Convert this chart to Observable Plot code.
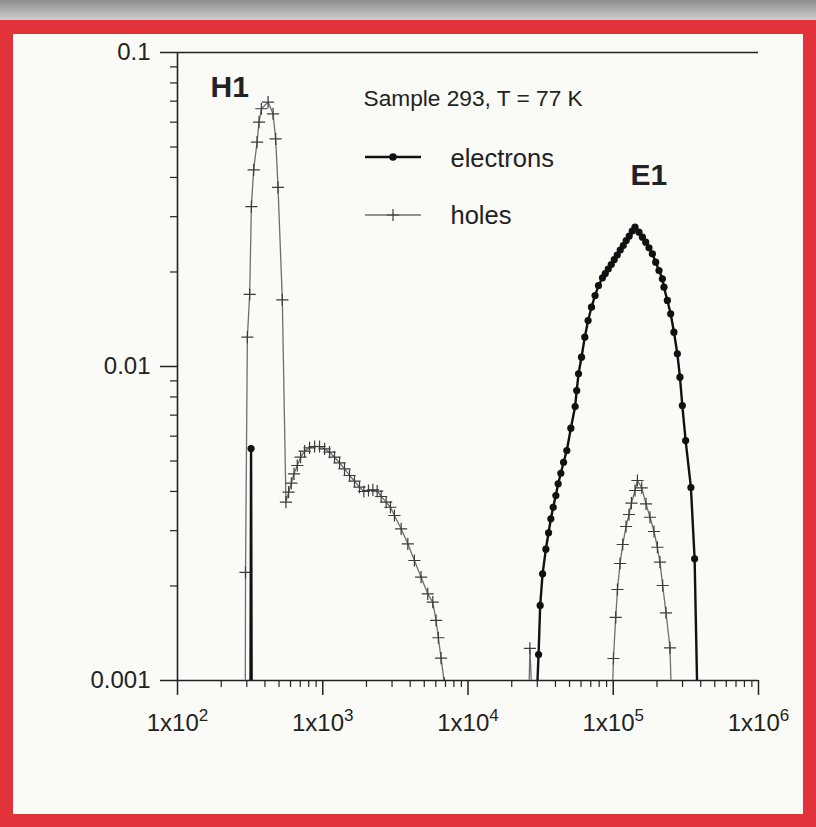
<!DOCTYPE html>
<html><head><meta charset="utf-8">
<script src="https://cdn.jsdelivr.net/npm/d3@7"></script>
<script src="https://cdn.jsdelivr.net/npm/@observablehq/plot@0.6"></script>
<style>
html,body{margin:0;padding:0;width:816px;height:827px;overflow:hidden;background:#c4c4c4;}
#strip{position:absolute;left:0;top:0;width:816px;height:22px;background:linear-gradient(to bottom,#8e8e8e,#d2d2d2);}
#frame{position:absolute;left:0;top:20px;width:816px;height:807px;box-sizing:border-box;border:13px solid #e2333b;border-top-width:14px;background:#fafaf7;}
#chart{position:absolute;left:0;top:0;}
</style></head><body>
<div id="strip"></div><div id="frame"></div><div id="chart"></div>
<script>
// ---- data ----
// holes, H1 branch
const holesH1Energy = [293, 294, 302.7, 314, 322.6, 334.5, 353, 364.2, 377.9, 420.2, 454.8, 473.9, 492.1, 526.8, 558, 582.1, 607.5, 634.1, 667.9, 703.7, 749.7, 811.6, 878.6, 950.6, 1029, 1113.6, 1205, 1305, 1412, 1529, 1654, 1790, 1919, 2065, 2213, 2370, 2524, 2732, 2924, 3115, 3463, 3851, 4275, 4753, 5284, 5720, 6028, 6251, 6523, 6873];
const holesH1Value = [0.0009, 0.00221, 0.0124, 0.01696, 0.0323, 0.0423, 0.0518, 0.060, 0.0662, 0.0695, 0.0638, 0.0531, 0.0372, 0.0163, 0.0037, 0.003978, 0.004249, 0.004553, 0.004838, 0.005142, 0.005374, 0.005509, 0.005562, 0.005562, 0.005469, 0.005334, 0.005142, 0.004935, 0.004722, 0.004497, 0.004313, 0.004127, 0.003999, 0.004028, 0.004049, 0.004008, 0.003855, 0.003697, 0.003563, 0.003353, 0.003041, 0.002725, 0.002411, 0.002133, 0.001888, 0.001776, 0.001553, 0.001368, 0.001178, 0.00098];
// holes, small spike
const holesSpikeEnergy = [26260, 26680, 27540];
const holesSpikeValue = [0.0009, 0.001265, 0.0009];
// holes, E1 branch
const holesE1Energy = [98740, 100300, 104000, 106900, 111400, 116200, 122500, 128400, 133400, 141200, 146700, 157000, 168100, 179000, 190800, 201300, 209700, 218900, 230700, 245800, 251200];
const holesE1Value = [0.0009, 0.001175, 0.001588, 0.001949, 0.002358, 0.002711, 0.003093, 0.003378, 0.00367, 0.004028, 0.004335, 0.004109, 0.003652, 0.003311, 0.002982, 0.002657, 0.002381, 0.002007, 0.001643, 0.001271, 0.0009];
// electrons, spike near H1
const elecH1Energy = [318, 321, 324];
const elecH1Value = [0.0009, 0.00548, 0.0009];
// electrons, E1 branch
const elecE1Energy = [29800, 30610, 31400, 32620, 34360, 35860, 37190, 38580, 40260, 41750, 43580, 45480, 47910, 51060, 54640, 56040, 57660, 60460, 63700, 67120, 70820, 74990, 79120, 84310, 88100, 92400, 96900, 101600, 106500, 111700, 117200, 122800, 128800, 135100, 141200, 150400, 158800, 167300, 176200, 186000, 196000, 206500, 217900, 223500, 235800, 248500, 261800, 276300, 287900, 298900, 315000, 342500, 363200, 379100];
const elecE1Value = [0.0009, 0.00121, 0.001734, 0.002187, 0.002619, 0.002954, 0.003273, 0.003563, 0.003882, 0.004232, 0.004572, 0.004956, 0.005401, 0.006362, 0.007458, 0.008387, 0.00948, 0.010705, 0.0124, 0.01401, 0.01545, 0.01683, 0.01811, 0.01916, 0.01977, 0.02044, 0.02113, 0.02191, 0.02265, 0.0235, 0.02428, 0.02519, 0.02603, 0.027, 0.02777, 0.02677, 0.02581, 0.02488, 0.02388, 0.02285, 0.02149, 0.02021, 0.01902, 0.01789, 0.01623, 0.01472, 0.01286, 0.01098, 0.009245, 0.007513, 0.00581, 0.004118, 0.002441, 0.0009];

const xMajorTicks = [1e2, 1e3, 1e4, 1e5, 1e6];
const yMajorTicks = [0.001, 0.01, 0.1];
const yTickLabels = ["0.001", "0.01", "0.1"];
const seriesNames = ["electrons", "holes"];
const titleText = "Sample 293, T = 77 K";
const peakLabels = ["H1", "E1"];

// ---- build tables ----
function rows(xs, ys, seg) { return xs.map((x, i) => ({x, y: ys[i], seg})); }
const holes = [].concat(
  rows(holesH1Energy, holesH1Value, "a"),
  rows(holesSpikeEnergy, holesSpikeValue, "b"),
  rows(holesE1Energy, holesE1Value, "c"));
const electrons = [].concat(
  rows(elecH1Energy, elecH1Value, "a"),
  rows(elecE1Energy, elecE1Value, "b"));

const xMinor = [];
for (let e = 2; e < 6; e++) for (let k = 2; k <= 9; k++) xMinor.push(k * Math.pow(10, e));
const yMinor = [];
for (let e = -3; e < -1; e++) for (let k = 2; k <= 9; k++) yMinor.push(+(k * Math.pow(10, e)).toPrecision(3));

const ink = "#222";
const font = "'Liberation Sans', Arial, Helvetica, sans-serif";

const chart = Plot.plot({
  width: 816, height: 827,
  marginLeft: 177, marginRight: 58, marginTop: 52, marginBottom: 147,
  style: {fontFamily: font, fontSize: "24px", background: "transparent", color: ink},
  x: {type: "log", domain: [1e2, 1e6]},
  y: {type: "log", domain: [1e-3, 1e-1]},
  marks: [
    Plot.axisX({ticks: xMinor, tickSize: 7, tickFormat: () => "", label: null, stroke: ink, strokeWidth: 1.2}),
    Plot.axisX({ticks: xMajorTicks, tickSize: 15, tickPadding: 18, label: null, stroke: ink, strokeWidth: 1.5, fontSize: 24,
      tickFormat: d => "1x10^" + Math.round(Math.log10(d))}),
    Plot.axisY({ticks: yMinor, tickSize: 7, tickFormat: () => "", label: null, stroke: ink, strokeWidth: 1.2}),
    Plot.axisY({ticks: yMajorTicks, tickSize: 17, tickPadding: 10, label: null, stroke: ink, strokeWidth: 1.5, fontSize: 24,
      tickFormat: d => yTickLabels[yMajorTicks.indexOf(d)]}),
    Plot.ruleX([1e2], {stroke: ink, strokeWidth: 1.6}),
    Plot.ruleY([1e-3], {stroke: ink, strokeWidth: 1.6}),
    Plot.ruleY([1e-1], {stroke: ink, strokeWidth: 1.4}),
    Plot.line(holes, {x: "x", y: "y", z: "seg", stroke: "#6e6e6e", strokeWidth: 1.3, clip: true}),
    Plot.dot(holes, {x: "x", y: "y", symbol: "plus", r: 4, stroke: "#3c3c3c", strokeWidth: 1.2, clip: true}),
    Plot.line(electrons, {x: "x", y: "y", z: "seg", stroke: "#111", strokeWidth: 2.4, clip: true}),
    Plot.dot(electrons, {x: "x", y: "y", r: 3.6, fill: "#111", stroke: "none", clip: true}),
    Plot.text([titleText], {frameAnchor: "top-left", dx: 186, dy: 37, text: d => d, textAnchor: "start", lineAnchor: "top", fontSize: 22.7, fill: ink}),
    Plot.text([peakLabels[0]], {frameAnchor: "top-left", dx: 33, dy: 23, text: d => d, textAnchor: "start", lineAnchor: "top", fontSize: 30, fontWeight: "bold", fill: ink}),
    Plot.text([peakLabels[1]], {frameAnchor: "top-left", dx: 453, dy: 111, text: d => d, textAnchor: "start", lineAnchor: "top", fontSize: 30, fontWeight: "bold", fill: ink}),
    Plot.text([seriesNames[0]], {frameAnchor: "top-left", dx: 273, dy: 96, text: d => d, textAnchor: "start", lineAnchor: "top", fontSize: 25.5, fill: ink}),
    Plot.text([seriesNames[1]], {frameAnchor: "top-left", dx: 273, dy: 153, text: d => d, textAnchor: "start", lineAnchor: "top", fontSize: 25.5, fill: ink})
  ]
});
document.getElementById("chart").appendChild(chart);

// superscript exponents on x tick labels
const walker = document.createTreeWalker(chart, NodeFilter.SHOW_TEXT);
const textNodes = [];
while (walker.nextNode()) textNodes.push(walker.currentNode);
textNodes.forEach(n => {
  const m = n.nodeValue.match(/^1x10\^(\d)$/);
  if (!m) return;
  const parent = n.parentNode;
  const base = document.createTextNode("1x10");
  const sup = document.createElementNS("http://www.w3.org/2000/svg", "tspan");
  sup.setAttribute("dy", "-10");
  sup.setAttribute("font-size", "17");
  sup.textContent = m[1];
  parent.replaceChild(base, n);
  parent.insertBefore(sup, base.nextSibling);
});

// legend symbols
const svg = d3.select(chart);
const lg = svg.append("g");
lg.append("line").attr("x1", 365).attr("x2", 421).attr("y1", 157).attr("y2", 157).attr("stroke", "#111").attr("stroke-width", 2.4);
lg.append("circle").attr("cx", 393).attr("cy", 157).attr("r", 3.8).attr("fill", "#111");
lg.append("line").attr("x1", 365).attr("x2", 421).attr("y1", 215).attr("y2", 215).attr("stroke", "#6e6e6e").attr("stroke-width", 1.3);
lg.append("path").attr("d", d3.symbol(d3.symbolPlus, 50)()).attr("transform", "translate(393,215)").attr("fill", "none").attr("stroke", "#3c3c3c").attr("stroke-width", 1.2);
</script>
</body></html>
